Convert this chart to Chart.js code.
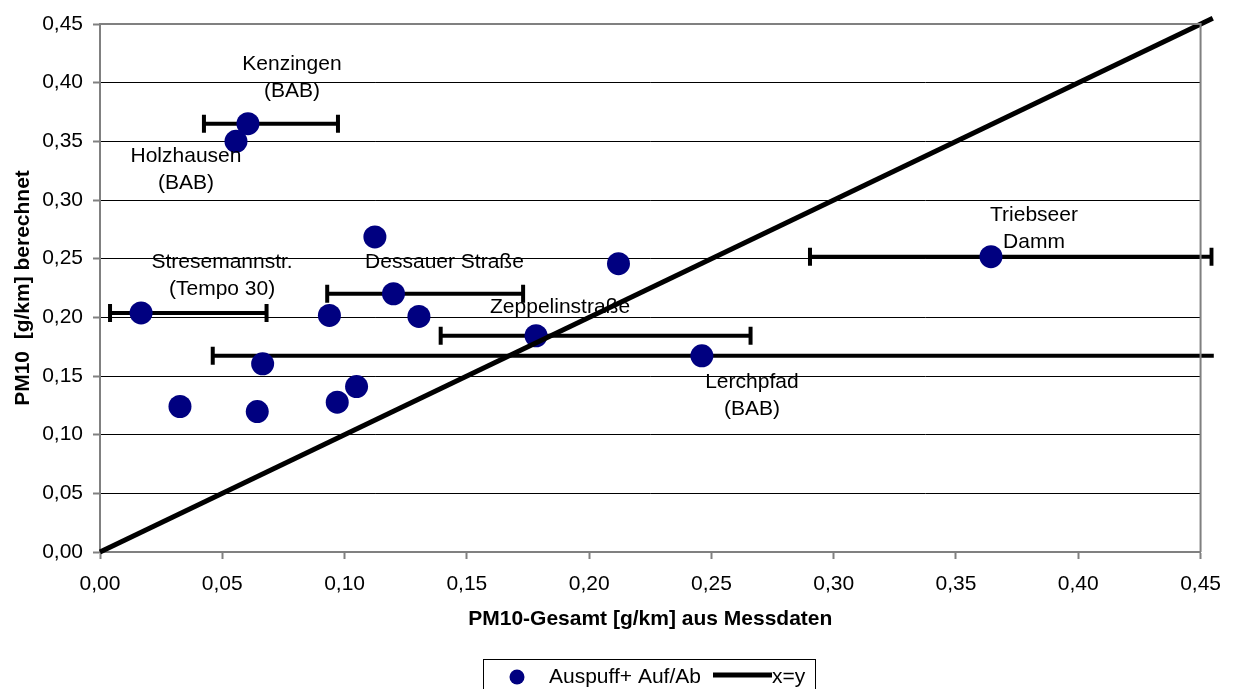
<!DOCTYPE html>
<html>
<head>
<meta charset="utf-8">
<script src="https://cdn.jsdelivr.net/npm/chart.js@4"></script>
<style>
  body { margin: 0; background: #fff; }
  canvas { display: block; }
</style>
</head>
<body>
<canvas id="chart" width="1234" height="689"></canvas>
<script>
// Measured values (PM10 g/km)
const measured = [0.0605, 0.0556, 0.1124, 0.2120, 0.3643, 0.0168, 0.1200, 0.0938,
                  0.1304, 0.1783, 0.2461, 0.0665, 0.1049, 0.0970, 0.0327, 0.0643];
const computed = [0.365, 0.350, 0.2685, 0.2457, 0.2517, 0.2037, 0.2201, 0.2016,
                  0.2008, 0.1843, 0.1672, 0.1604, 0.1410, 0.1277, 0.1240, 0.1197];

// Horizontal error bars (range of measured values)
const errLow  = [0.0425, null, null, null, 0.2903, 0.0041, 0.0929, null,
                 null, 0.1393, 0.0461, null, null, null, null, null];
const errHigh = [0.0973, null, null, null, 0.4545, 0.0681, 0.1730, null,
                 null, 0.2660, 0.5000, null, null, null, null, null];

// Station names next to points
const stationNames = [['Kenzingen', '(BAB)'], ['Holzhausen', '(BAB)'], null, null,
                      ['Triebseer', 'Damm'], ['Stresemannstr.', '(Tempo 30)'], ['Dessauer Straße'], null,
                      null, ['Zeppelinstraße'], ['Lerchpfad', '(BAB)'], null, null, null, null, null];

const diagonalX = [0, 0.455];
const diagonalY = [0, 0.455];

const axisMin = 0;
const axisMax = 0.45;
const axisStep = 0.05;

const seriesName = 'Auspuff+ Auf/Ab';
const lineName = 'x=y';
const xTitle = 'PM10-Gesamt [g/km] aus Messdaten';
const yTitle = 'PM10  [g/km] berechnet';

// label offsets in pixels relative to point (style, not data)
const labelOffsets = {
    0: [44, -60], 1: [-50, 15], 4: [43, -41], 5: [81, -51],
    6: [51, -32], 9: [24, -29], 10: [50, 26]
};

const FONT = '"Liberation Sans", Arial, sans-serif';
const NAVY = '#000080';
const GREY = '#808080';

const fmt = v => Number(v).toFixed(2).replace('.', ',');

const scatterPoints = measured.map((x, i) => ({ x: x, y: computed[i] }));
const diagonalPoints = diagonalX.map((x, i) => ({ x: x, y: diagonalY[i] }));

// error bars under the points
const errorBars = {
    id: 'errorBars',
    beforeDatasetsDraw(chart) {
        const ctx = chart.ctx;
        const xs = chart.scales.x, ys = chart.scales.y;
        const area = chart.chartArea;
        const clipRight = xs.getPixelForValue(diagonalX[1]);
        ctx.save();
        ctx.beginPath();
        ctx.rect(area.left, 0, clipRight - area.left + 1, chart.height);
        ctx.clip();
        ctx.strokeStyle = '#000';
        ctx.lineCap = 'butt';
        errLow.forEach((lo, i) => {
            if (lo === null) return;
            const y = ys.getPixelForValue(computed[i]);
            const x1 = xs.getPixelForValue(lo);
            const x2 = xs.getPixelForValue(errHigh[i]);
            ctx.lineWidth = 4;
            ctx.beginPath();
            ctx.moveTo(x1, y);
            ctx.lineTo(x2, y);
            ctx.stroke();
            [x1, x2].forEach(x => {
                ctx.beginPath();
                ctx.moveTo(x, y - 9);
                ctx.lineTo(x, y + 9);
                ctx.stroke();
            });
        });
        ctx.restore();
    }
};

// station labels, plot frame, axis titles, legend
const decorations = {
    id: 'decorations',
    afterDatasetsDraw(chart) {
        const ctx = chart.ctx;
        const xs = chart.scales.x, ys = chart.scales.y;
        ctx.save();
        ctx.fillStyle = '#000';
        ctx.font = '21px ' + FONT;
        ctx.textAlign = 'center';
        ctx.textBaseline = 'middle';
        stationNames.forEach((lines, i) => {
            if (!lines) return;
            const off = labelOffsets[i];
            const px = xs.getPixelForValue(measured[i]) + off[0];
            const py = ys.getPixelForValue(computed[i]) + off[1];
            lines.forEach((t, k) => ctx.fillText(t, px, py + k * 27));
        });
        ctx.restore();
    },
    afterDraw(chart) {
        const ctx = chart.ctx;
        const area = chart.chartArea;
        ctx.save();
        // top and right frame
        ctx.strokeStyle = GREY;
        ctx.lineWidth = 2;
        ctx.beginPath();
        ctx.moveTo(area.left, area.top);
        ctx.lineTo(area.right, area.top);
        ctx.lineTo(area.right, area.bottom);
        ctx.stroke();

        // axis titles
        ctx.fillStyle = '#000';
        ctx.font = 'bold 21px ' + FONT;
        ctx.textAlign = 'center';
        ctx.textBaseline = 'middle';
        ctx.fillText(xTitle, (area.left + area.right) / 2, 619);
        ctx.save();
        ctx.translate(23, (area.top + area.bottom) / 2);
        ctx.rotate(-Math.PI / 2);
        ctx.fillText(yTitle, 0, 0);
        ctx.restore();

        // legend
        ctx.strokeStyle = '#000';
        ctx.lineWidth = 1;
        ctx.strokeRect(483.5, 659.5, 332, 40);
        ctx.fillStyle = NAVY;
        ctx.beginPath();
        ctx.arc(517, 677, 7.5, 0, Math.PI * 2);
        ctx.fill();
        ctx.fillStyle = '#000';
        ctx.font = '21px ' + FONT;
        ctx.textAlign = 'left';
        ctx.fillText(seriesName, 549, 677);
        ctx.lineWidth = 5;
        ctx.beginPath();
        ctx.moveTo(713, 675);
        ctx.lineTo(772, 675);
        ctx.stroke();
        ctx.fillText(lineName, 772, 677);
        ctx.restore();
    }
};

function renderChart() {
    const ctx = document.getElementById('chart').getContext('2d');
    new Chart(ctx, {
        type: 'scatter',
        data: {
            datasets: [
                {
                    type: 'line',
                    label: lineName,
                    data: diagonalPoints,
                    borderColor: '#000',
                    borderWidth: 5,
                    pointRadius: 0,
                    fill: false,
                    clip: false,
                    order: 0
                },
                {
                    label: seriesName,
                    data: scatterPoints,
                    backgroundColor: NAVY,
                    borderColor: NAVY,
                    borderWidth: 0,
                    pointRadius: 11.5,
                    pointHoverRadius: 11.5,
                    order: 1
                }
            ]
        },
        options: {
            responsive: false,
            animation: false,
            events: [],
            layout: { padding: { top: 24, right: 33, left: 0, bottom: 0 } },
            plugins: {
                legend: { display: false },
                tooltip: { enabled: false }
            },
            scales: {
                x: {
                    type: 'linear',
                    min: axisMin,
                    max: axisMax,
                    afterFit: s => { s.height = 137; },
                    ticks: {
                        stepSize: axisStep,
                        callback: fmt,
                        color: '#000',
                        font: { family: FONT, size: 21 },
                        padding: 13,
                        maxRotation: 0
                    },
                    grid: {
                        drawOnChartArea: false,
                        drawTicks: true,
                        tickLength: 7,
                        tickColor: GREY,
                        tickWidth: 2
                    },
                    border: { color: GREY, width: 2 }
                },
                y: {
                    type: 'linear',
                    min: axisMin,
                    max: axisMax,
                    afterFit: s => { s.width = 100; },
                    ticks: {
                        stepSize: axisStep,
                        callback: fmt,
                        color: '#000',
                        font: { family: FONT, size: 21 },
                        padding: 10
                    },
                    grid: {
                        color: '#000',
                        lineWidth: 1,
                        tickLength: 7,
                        tickColor: GREY,
                        tickWidth: 2
                    },
                    border: { color: GREY, width: 2 }
                }
            }
        },
        plugins: [errorBars, decorations]
    });
}

window.onload = renderChart;
</script>
</body>
</html>
